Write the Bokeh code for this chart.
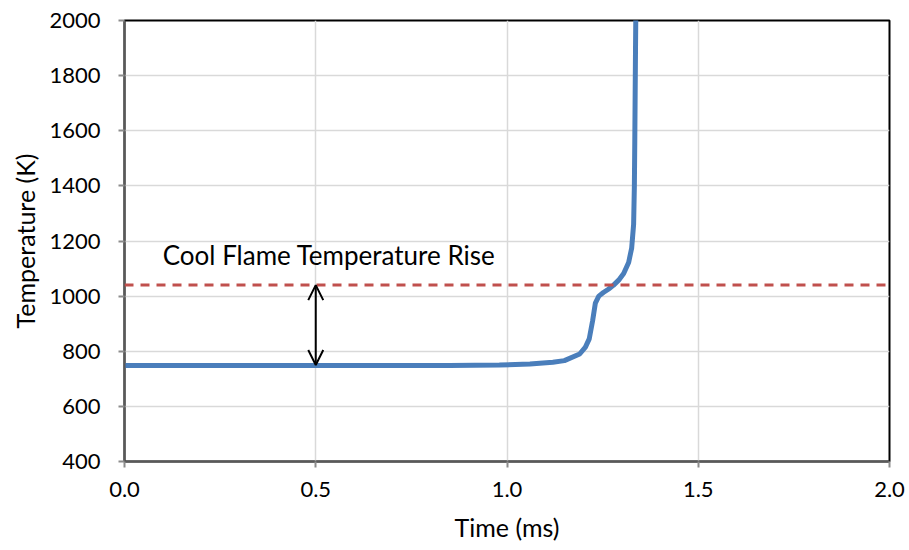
from bokeh.plotting import figure
from bokeh.models import (FixedTicker, NumeralTickFormatter, Range1d, Arrow,
                          OpenHead, Span, Label)
from bokeh.embed import file_html
from bokeh.resources import INLINE

# Temperature history of the ignition event
time_ms = [0.0, 0.40, 0.85, 0.98, 1.06, 1.12, 1.15, 1.19, 1.205, 1.215, 1.224,
           1.231, 1.24, 1.252, 1.265, 1.278, 1.292, 1.305, 1.318, 1.326,
           1.331, 1.333, 1.334, 1.336, 1.338]
temp_k = [748, 748, 748, 750, 754, 760, 766, 790, 815, 845, 912,
          975, 1000, 1013, 1025, 1039, 1058, 1082, 1122, 1175,
          1260, 1400, 1550, 1900, 2200]

cool_flame_temp = 1040
initial_temp = 750
arrow_time = 0.5

x_ticks = [0.0, 0.5, 1.0, 1.5, 2.0]
y_ticks = [400, 600, 800, 1000, 1200, 1400, 1600, 1800, 2000]

FONT = "Lato"

p = figure(width=909, height=550, output_backend="svg", toolbar_location=None,
           x_range=Range1d(0, 2.0), y_range=Range1d(400, 2000),
           min_border_left=124, min_border_right=20, min_border_top=20,
           min_border_bottom=89)
p.background_fill_color = "white"
p.border_fill_color = "white"
p.outline_line_color = "black"
p.outline_line_width = 2

for ax in (p.xaxis, p.yaxis):
    ax.axis_line_color = "#595959"
    ax.axis_line_width = 2
    ax.major_tick_line_color = "#8c8c8c"
    ax.major_tick_line_width = 2
    ax.major_tick_in = 0
    ax.major_tick_out = 6
    ax.minor_tick_line_color = None
    ax.major_label_text_font = FONT
    ax.major_label_text_font_size = "22px"
    ax.major_label_text_color = "black"
    ax.axis_label_text_font = FONT
    ax.axis_label_text_font_size = "25px"
    ax.axis_label_text_font_style = "normal"
    ax.axis_label_text_color = "black"

p.xaxis.ticker = FixedTicker(ticks=x_ticks)
p.xaxis.formatter = NumeralTickFormatter(format="0.0")
p.xaxis.axis_label = "Time (ms)"
p.xaxis.major_label_standoff = 14
p.xaxis.axis_label_standoff = 12

p.yaxis.ticker = FixedTicker(ticks=y_ticks)
p.yaxis.axis_label = "Temperature (K)"
p.yaxis.major_label_standoff = 18
p.yaxis.axis_label_standoff = 6

p.xgrid.ticker = FixedTicker(ticks=x_ticks)
p.ygrid.ticker = FixedTicker(ticks=y_ticks)
for g in (p.xgrid, p.ygrid):
    g.grid_line_color = "#d9d9d9"
    g.grid_line_width = 1.5

# Cool flame temperature level
p.add_layout(Span(location=cool_flame_temp, dimension="width",
                  line_color="#c0504d", line_width=3, line_dash="9 7"))

# Temperature trace
p.line(time_ms, temp_k, line_color="#4a7ebb", line_width=5)

# Double-headed arrow marking the rise
p.add_layout(Arrow(x_start=arrow_time, y_start=initial_temp,
                   x_end=arrow_time, y_end=cool_flame_temp,
                   line_color="black", line_width=2,
                   start=OpenHead(size=15, line_color="black", line_width=2),
                   end=OpenHead(size=15, line_color="black", line_width=2)))

p.add_layout(Label(x=0.10, y=1150, text="Cool Flame Temperature Rise",
                   text_font=FONT, text_font_size="26px", text_color="black",
                   text_baseline="middle", text_align="left"))

open("out.html", "w").write(file_html(p, INLINE))
